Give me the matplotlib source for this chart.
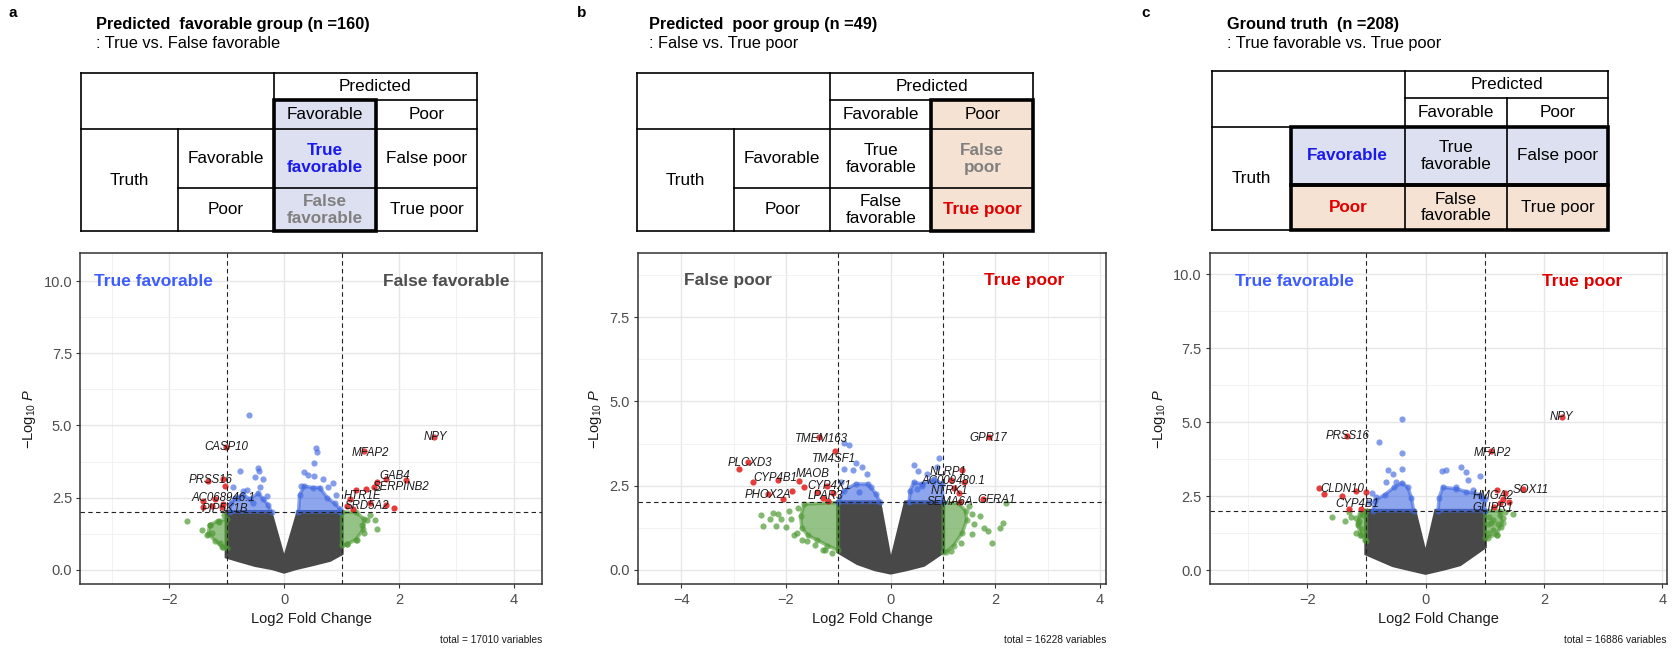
import matplotlib
matplotlib.use('Agg')
import matplotlib.pyplot as plt
from matplotlib.patches import Rectangle

plt.rcParams['font.family'] = ['Liberation Sans', 'DejaVu Sans']
plt.rcParams['mathtext.fontset'] = 'custom'
plt.rcParams['mathtext.rm'] = 'Liberation Sans'
plt.rcParams['mathtext.it'] = 'Liberation Sans:italic'
plt.rcParams['mathtext.bf'] = 'Liberation Sans:bold'

# ---------------- DATA ----------------
titles = ["Predicted  favorable group (n =160)", "Predicted  poor group (n =49)", "Ground truth  (n =208)"]
subtitles = [": True vs. False favorable", ": False vs. True poor", ": True favorable vs. True poor"]
letters = ["a", "b", "c"]
totals = ["total = 17010 variables", "total = 16228 variables", "total = 16886 variables"]

tbl_header = "Predicted"
tbl_cols = ["Favorable", "Poor"]
tbl_rowhead = "Truth"
tbl_rows = ["Favorable", "Poor"]
tbl_cells = [
    [["True\nfavorable", "False poor"], ["False\nfavorable", "True poor"]],
    [["True\nfavorable", "False\npoor"], ["False\nfavorable", "True poor"]],
    [["True\nfavorable", "False poor"], ["False\nfavorable", "True poor"]],
]

# panel a
a_gray_x = [-1.0, -0.24, 0.0, 0.25, 1.0, 1.0, 0.8, 0.5, 0.2, 0.0, -0.2, -0.5, -0.8, -1.0]
a_gray_y = [2.0, 2.0, 0.3, 2.0, 2.0, 0.57, 0.35, 0.2, 0.06, -0.06, 0.06, 0.17, 0.34, 0.46]
a_blue_polys = [
    ([-0.95, -0.93, -0.85, -0.72, -0.6, -0.45, -0.36, -0.28, -0.22], [2.0, 2.3, 2.5, 2.6, 2.45, 2.65, 2.45, 2.25, 2.0]),
    ([0.25, 0.27, 0.35, 0.5, 0.62, 0.75, 0.88, 0.97, 0.97], [2.0, 2.6, 2.9, 2.85, 2.85, 2.5, 2.3, 2.12, 2.0]),
]
a_blue_x = [-0.61, -0.77, -0.46, -0.44, -0.51, -0.37, -0.89, -0.72, -0.64, -0.42, -0.30, -0.8, -0.55,
            0.56, 0.57, 0.52, 0.35, 0.52, 0.42, 0.68, 0.86, 0.76, 0.9, 0.3]
a_blue_y = [5.37, 3.43, 3.54, 3.41, 3.22, 3.14, 2.86, 2.74, 2.77, 2.86, 2.57, 2.5, 2.3,
            4.21, 4.09, 3.71, 3.39, 3.26, 3.3, 3.14, 2.99, 2.86, 2.6, 2.9]
a_green_polys = [
    ([-1.0, -1.15, -1.3, -1.32, -1.2, -1.08, -1.0], [1.75, 1.7, 1.55, 1.25, 1.0, 0.8, 0.75]),
    ([1.0, 1.25, 1.4, 1.38, 1.25, 1.1, 1.0], [2.0, 2.0, 1.75, 1.4, 1.05, 0.88, 0.85]),
]
a_green_x = [-1.69, -1.43, -1.29, -1.13, -1.26, -1.12, -1.06, -1.35, -1.05,
             1.62, 1.59, 1.45, 1.39, 1.27, 1.09, 1.5, 1.35]
a_green_y = [1.69, 1.37, 1.54, 1.66, 1.26, 0.94, 0.8, 1.2, 1.9,
             1.43, 1.71, 1.72, 1.26, 1.03, 0.91, 1.9, 1.55]
a_red_x = [-1.02, -1.32, -1.06, -1.03, -1.41, -1.2, -1.06, -1.41, -1.09, -1.26,
           1.10, 1.15, 1.25, 1.42, 1.57, 1.61, 1.78, 2.12, 1.40, 2.62, 1.78, 1.91, 1.5, 1.2]
a_red_y = [4.25, 3.09, 3.14, 2.91, 2.4, 2.46, 2.29, 2.17, 2.17, 2.2,
           2.20, 2.45, 2.75, 2.80, 2.88, 3.03, 3.14, 3.11, 4.10, 4.59, 2.25, 2.13, 2.3, 2.1]
a_labels = ["CASP10", "PRSS16", "AC068946.1", "PIP5K1B", "NPY", "MFAP2", "GAB4", "SERPINB2", "HTR1E", "SRD5A2"]
a_lab_x = [-1.0, -1.29, -1.06, -1.03, 2.64, 1.51, 1.92, 2.03, 1.36, 1.44]
a_lab_y = [4.25, 3.11, 2.49, 2.11, 4.59, 4.06, 3.26, 2.86, 2.54, 2.21]

# panel b
b_gray_x = [-1.0, -0.22, 0.0, 0.29, 1.0, 1.0, 0.63, 0.3, 0.0, -0.3, -0.63, -1.0]
b_gray_y = [2.0, 2.0, 0.15, 2.0, 2.0, 0.54, 0.15, 0.02, -0.08, 0.02, 0.2, 0.54]
b_blue_polys = [
    ([-1.0, -0.9, -0.67, -0.44, -0.38, -0.28, -0.2], [2.0, 2.35, 2.55, 2.55, 2.45, 2.25, 2.0]),
    ([0.35, 0.37, 0.44, 0.6, 0.83, 0.98, 1.0], [2.0, 2.35, 2.6, 2.55, 2.7, 2.55, 2.0]),
]
b_blue_x = [-0.89, -0.79, -0.89, -0.72, -0.67, -0.55, -0.45, -0.95, -0.6,
            0.44, 0.93, 0.52, 0.7, 0.88, 0.8, 0.6, 0.5]
b_blue_y = [3.76, 3.71, 3.0, 2.95, 3.17, 3.05, 2.85, 2.6, 2.3,
            3.1, 3.32, 2.92, 2.85, 3.05, 2.6, 2.5, 2.4]
b_green_polys = [
    ([-1.65, -1.0, -1.0, -1.21, -1.40, -1.58, -1.7, -1.72], [1.95, 2.0, 0.58, 0.72, 0.88, 1.02, 1.25, 1.6]),
    ([1.0, 1.3, 1.43, 1.45, 1.37, 1.2, 1.05, 1.0], [2.0, 1.97, 1.75, 1.48, 1.1, 0.72, 0.52, 0.52]),
]
b_green_x = [-2.48, -2.44, -2.3, -2.16, -2.1, -2.0, -1.84, -1.9, -1.78, -2.25, -1.95, -1.6, -1.3, -2.2,
             -1.8, -1.7, -1.45, -1.25, -1.12,
             1.78, 1.94, 2.08, 1.85, 1.56, 1.6, 2.15, 1.55, 1.7, 2.2, 1.5, 1.35, 1.15]
b_green_y = [1.63, 1.3, 1.5, 1.67, 1.52, 1.28, 1.03, 1.5, 1.85, 1.7, 1.75, 0.85, 0.6, 1.3,
             1.1, 0.9, 0.75, 0.58, 0.5,
             1.25, 0.81, 1.23, 1.15, 1.67, 1.35, 1.4, 1.05, 1.6, 1.97, 1.9, 0.8, 0.55]
b_red_x = [-1.37, -1.06, -2.90, -2.72, -2.63, -2.15, -1.76, -1.65, -1.22, -2.35, -2.06, -1.89,
           -1.40, -1.30, -1.11, -1.2, 1.87, 1.37, 1.16, 1.40, 1.21, 1.30, 1.33, 1.76]
b_red_y = [3.94, 3.54, 2.98, 3.19, 2.60, 2.66, 2.64, 2.46, 2.50, 2.24, 2.09, 2.34,
           2.32, 2.12, 2.29, 2.05, 3.94, 2.96, 2.66, 2.61, 2.44, 2.27, 2.02, 2.09]
b_labels = ["TMEM163", "TM4SF1", "PLCXD3", "CYP4B1", "MAOB", "CYP4X1", "PHOX2A", "LPAR3",
            "GPR17", "NLRP1", "AC009480.1", "NTRK1", "SEMA6A", "GFRA1"]
b_lab_x = [-1.33, -1.08, -2.70, -2.21, -1.49, -1.17, -2.34, -1.24, 1.87, 1.09, 1.19, 1.13, 1.13, 2.02]
b_lab_y = [3.89, 3.30, 3.17, 2.74, 2.86, 2.50, 2.22, 2.20, 3.92, 2.91, 2.63, 2.34, 2.02, 2.08]

# panel c
c_gray_x = [-1.0, -0.19, 0.0, 0.18, 1.0, 1.0, 0.58, 0.3, 0.0, -0.3, -0.55, -1.0]
c_gray_y = [2.0, 2.0, 0.45, 2.0, 2.0, 0.79, 0.2, 0.05, -0.09, 0.05, 0.17, 0.56]
c_blue_polys = [
    ([-0.89, -0.86, -0.69, -0.53, -0.4, -0.30, -0.24, -0.2], [2.0, 2.35, 2.55, 2.8, 2.95, 2.8, 2.45, 2.0]),
    ([0.21, 0.23, 0.29, 0.52, 0.69, 0.92, 1.0, 1.0], [2.0, 2.45, 2.8, 2.75, 2.65, 2.55, 2.4, 2.0]),
]
c_blue_x = [-0.40, -0.78, -0.40, -0.40, -0.64, -0.55, -0.50, -0.67, -0.84, -0.9, -0.95,
            0.27, 0.35, 0.60, 0.69, 0.92, 0.72, 0.52, 0.8, 0.95]
c_blue_y = [5.11, 4.33, 3.96, 3.43, 3.37, 3.25, 2.98, 2.98, 2.47, 2.6, 2.3,
            3.34, 3.37, 3.48, 3.31, 3.17, 3.05, 2.8, 2.7, 2.45]
c_green_polys = [
    ([-1.0, -1.1, -1.15, -1.1, -1.0], [2.0, 1.9, 1.6, 1.2, 1.0]),
    ([1.0, 1.25, 1.3, 1.2, 1.05, 1.0], [2.0, 2.0, 1.6, 1.2, 1.1, 1.1]),
]
c_green_x = [-1.58, -1.36, -1.26, -1.18, -1.15, -1.18, -1.09, -1.03, -1.12, -1.07, -1.3, -1.05,
             1.08, 1.14, 1.23, 1.28, 1.14, 1.20, 1.05, 1.10, 1.48, 1.34, 1.25, 1.3, 1.05]
c_green_y = [1.80, 1.65, 1.80, 1.75, 1.52, 1.24, 1.18, 1.01, 1.65, 1.4, 1.95, 1.85,
             1.80, 1.7, 1.57, 1.46, 1.35, 1.18, 1.55, 1.6, 1.89, 1.97, 1.85, 1.75, 1.25]
c_red_x = [2.30, -1.33, 1.1, -1.80, -1.72, -1.41, -1.18, -1.01, -1.30, -1.09, 1.65, 1.20, 1.34, 1.25, 1.41, 1.15, 1.3]
c_red_y = [5.19, 4.52, 4.02, 2.78, 2.58, 2.49, 2.66, 2.64, 2.08, 2.08, 2.75, 2.72, 2.61, 2.27, 2.30, 2.15, 2.4]
c_labels = ["NPY", "PRSS16", "MFAP2", "CLDN10", "CYP4B1", "SOX11", "HMGA2", "GLIPR1"]
c_lab_x = [2.29, -1.32, 1.13, -1.41, -1.16, 1.77, 1.14, 1.14]
c_lab_y = [5.19, 4.52, 3.96, 2.75, 2.22, 2.70, 2.50, 2.10]

# region annotations
ann_text = [["True favorable", "False favorable"], ["False poor", "True poor"], ["True favorable", "True poor"]]
ann_x = [[-2.27, 2.83], [-3.11, 2.55], [-2.22, 2.64]]
ann_y = [10.0, 8.58, 9.77]

xlims = [(-3.55, 4.49), (-4.83, 4.12), (-3.64, 4.08)]
ylims = [(-0.5, 10.96), (-0.43, 9.4), (-0.48, 10.71)]
xticks = [[-2, 0, 2, 4], [-4, -2, 0, 2, 4], [-2, 0, 2, 4]]
yticks = [[0, 2.5, 5, 7.5, 10], [0, 2.5, 5, 7.5], [0, 2.5, 5, 7.5, 10]]

# ---------------- STYLE ----------------
W, H = 1672, 649
GREY = '#484848'
GREEN = '#4f9a35'
BLUE = '#4169e1'
RED = '#e21a1a'
TBLUE = '#1a1aee'
TRED = '#e00000'
TGREY = '#808080'
FILL_B = '#dce0f0'
FILL_P = '#f5e2d3'
ANN_COL = {"True favorable": '#3d5cff', "False favorable": '#4d4d4d', "False poor": '#4d4d4d', "True poor": '#e00000'}
DOT = 20

fig = plt.figure(figsize=(W / 100, H / 100), dpi=100)
ov = fig.add_axes([0, 0, 1, 1])
ov.set_xlim(0, W)
ov.set_ylim(H, 0)
ov.axis('off')
ov.patch.set_alpha(0)

axes_px = [(80.4, 541.8), (637.9, 1106.4), (1210.2, 1667.0)]
ax_top, ax_bot = 253.3, 584.3
tbl_colpx = [[81.4, 177.5, 274, 376, 476.8], [637, 734, 830.4, 931.4, 1033.2], [1212, 1290.6, 1404.9, 1506.6, 1608.4]]
tbl_rowpx = [[72.7, 100, 129.3, 188.3, 231], [72.7, 100, 129.3, 188.3, 231], [70.7, 98.3, 126.7, 185, 230]]
title_x = [96.4, 648.6, 1227]
letter_x = [12.5, 582, 1146]


def draw_table(k):
    c = tbl_colpx[k]
    r = tbl_rowpx[k]
    lw = 1.2
    thick = []
    if k == 0:
        ov.add_patch(Rectangle((c[2], r[1]), c[3] - c[2], r[4] - r[1], fc=FILL_B, ec='none'))
        thick.append((c[2], r[1], c[3], r[4]))
    elif k == 1:
        ov.add_patch(Rectangle((c[3], r[1]), c[4] - c[3], r[4] - r[1], fc=FILL_P, ec='none'))
        thick.append((c[3], r[1], c[4], r[4]))
    else:
        ov.add_patch(Rectangle((c[1], r[2]), c[4] - c[1], r[3] - r[2], fc=FILL_B, ec='none'))
        ov.add_patch(Rectangle((c[1], r[3]), c[4] - c[1], r[4] - r[3], fc=FILL_P, ec='none'))
        thick.append((c[1], r[2], c[4], r[3]))
        thick.append((c[1], r[3], c[4], r[4]))
    segs = [
        ((c[0], c[4]), (r[0], r[0])), ((c[0], c[4]), (r[4], r[4])),
        ((c[0], c[0]), (r[0], r[4])), ((c[4], c[4]), (r[0], r[4])),
        ((c[2], c[2]), (r[0], r[4])), ((c[1], c[1]), (r[2], r[4])),
        ((c[3], c[3]), (r[1], r[4])), ((c[2], c[4]), (r[1], r[1])),
        ((c[0], c[4]), (r[2], r[2])), ((c[1], c[4]), (r[3], r[3])),
    ]
    for xs, ys in segs:
        ov.plot(xs, ys, color='black', lw=lw, solid_capstyle='projecting')
    for (x0, y0, x1, y1) in thick:
        ov.add_patch(Rectangle((x0, y0), x1 - x0, y1 - y0, fc='none', ec='black', lw=2.6, joinstyle='miter'))

    fs = 12.3

    def put(txt, cx, cy, color='black', bold=False):
        ov.text(cx, cy, txt, ha='center', va='center', fontsize=fs, color=color,
                fontweight='bold' if bold else 'normal', linespacing=1.15)

    put(tbl_header, (c[2] + c[4]) / 2, (r[0] + r[1]) / 2)
    put(tbl_cols[0], (c[2] + c[3]) / 2, (r[1] + r[2]) / 2)
    put(tbl_cols[1], (c[3] + c[4]) / 2, (r[1] + r[2]) / 2)
    put(tbl_rowhead, (c[0] + c[1]) / 2, (r[2] + r[4]) / 2)
    rowstyle = [('black', False), ('black', False)]
    if k == 2:
        rowstyle = [(TBLUE, True), (TRED, True)]
    put(tbl_rows[0], (c[1] + c[2]) / 2, (r[2] + r[3]) / 2, *rowstyle[0])
    put(tbl_rows[1], (c[1] + c[2]) / 2, (r[3] + r[4]) / 2, *rowstyle[1])
    styles = [[('black', False)] * 2, [('black', False)] * 2]
    if k == 0:
        styles = [[(TBLUE, True), ('black', False)], [(TGREY, True), ('black', False)]]
    elif k == 1:
        styles = [[('black', False), (TGREY, True)], [('black', False), (TRED, True)]]
    for i in range(2):
        for j in range(2):
            put(tbl_cells[k][i][j], (c[2 + j] + c[3 + j]) / 2, (r[2 + i] + r[3 + i]) / 2, *styles[i][j])


def draw_volcano(k, gx, gy, bpolys, bx, by, gpolys, grx, gry, rx, ry, labs, lx, ly):
    x0, x1 = axes_px[k]
    ax = fig.add_axes([x0 / W, 1 - ax_bot / H, (x1 - x0) / W, (ax_bot - ax_top) / H])
    ax.set_xticks(xticks[k])
    ax.set_xticklabels([str(v).replace('-', '\u2212') for v in xticks[k]])
    ax.set_yticks(yticks[k])
    ax.set_yticklabels(['%.1f' % v for v in yticks[k]])
    ax.set_xticks([-5, -3, -1, 1, 3], minor=True)
    ax.set_yticks([1.25, 3.75, 6.25, 8.75], minor=True)
    ax.set_xlim(*xlims[k])
    ax.set_ylim(*ylims[k])
    ax.set_axisbelow(True)
    ax.grid(which='major', color='#e6e6e6', lw=1.0)
    ax.grid(which='minor', color='#f0f0f0', lw=0.6)
    ax.tick_params(which='minor', length=0)
    ax.tick_params(which='major', direction='out', length=3, width=0.8, color='#333333',
                   labelsize=10.5, labelcolor='#4d4d4d', pad=3)
    for s in ax.spines.values():
        s.set_color('#333333')
        s.set_linewidth(1.1)
    ax.fill(gx, gy, color=GREY, ec=GREY, lw=3.0, zorder=2)
    for px, py in gpolys:
        ax.fill(px, py, color=GREEN, ec=GREEN, lw=2.5, alpha=0.6, zorder=3)
        ax.scatter(px, py, s=DOT, color=GREEN, alpha=0.6, lw=0, zorder=3)
    ax.scatter(grx, gry, s=DOT, color=GREEN, alpha=0.7, lw=0, zorder=3)
    for px, py in bpolys:
        ax.fill(px, py, color=BLUE, ec=BLUE, lw=2.5, alpha=0.6, zorder=3)
        ax.scatter(px, py, s=DOT, color=BLUE, alpha=0.6, lw=0, zorder=3)
    ax.scatter(bx, by, s=DOT, color=BLUE, alpha=0.65, lw=0, zorder=3)
    ax.scatter(rx, ry, s=DOT, color=RED, alpha=0.85, lw=0, zorder=4)
    for v in (-1, 1):
        ax.axvline(v, color='#222222', lw=0.8, ls=(0, (4, 3)), zorder=5)
    ax.axhline(2, color='#222222', lw=0.8, ls=(0, (4, 3)), zorder=5)
    for t, xx, yy in zip(labs, lx, ly):
        ax.text(xx, yy, t, ha='center', va='center', fontsize=8.3, style='italic', color='#1a1a1a', zorder=6)
    for t, xx in zip(ann_text[k], ann_x[k]):
        ax.text(xx, ann_y[k], t, ha='center', va='center', fontsize=12.5, fontweight='bold',
                color=ANN_COL[t], zorder=6)
    ax.set_xlabel('Log2 Fold Change', fontsize=10.5, color='#1a1a1a', labelpad=4)
    ax.set_ylabel(r'$-\mathrm{Log}_{10}\ \mathit{P}$', fontsize=10.5, color='#1a1a1a', labelpad=4)
    ov.text(x1, 640, totals[k], ha='right', va='center', fontsize=7.3, color='#1a1a1a')


for k in range(3):
    ov.text(letter_x[k], 13.3, letters[k], ha='center', va='center', fontsize=11, fontweight='bold')
    ov.text(title_x[k], 25, titles[k], ha='left', va='center', fontsize=11.8, fontweight='bold')
    ov.text(title_x[k], 43.3, subtitles[k], ha='left', va='center', fontsize=11.8)
    draw_table(k)

draw_volcano(0, a_gray_x, a_gray_y, a_blue_polys, a_blue_x, a_blue_y, a_green_polys, a_green_x, a_green_y,
             a_red_x, a_red_y, a_labels, a_lab_x, a_lab_y)
draw_volcano(1, b_gray_x, b_gray_y, b_blue_polys, b_blue_x, b_blue_y, b_green_polys, b_green_x, b_green_y,
             b_red_x, b_red_y, b_labels, b_lab_x, b_lab_y)
draw_volcano(2, c_gray_x, c_gray_y, c_blue_polys, c_blue_x, c_blue_y, c_green_polys, c_green_x, c_green_y,
             c_red_x, c_red_y, c_labels, c_lab_x, c_lab_y)

fig.savefig('out.png', dpi=100)
